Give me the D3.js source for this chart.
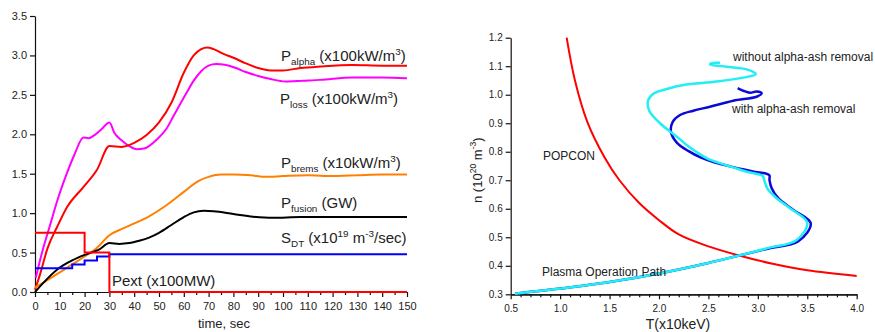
<!DOCTYPE html>
<html>
<head>
<meta charset="utf-8">
<script src="https://cdn.jsdelivr.net/npm/d3@7"></script>
<style>
  body { margin: 0; background: #fff; }
  text { font-family: "Liberation Sans", Arial, sans-serif; fill: #222; }
</style>
</head>
<body>
<svg id="chart" width="875" height="332"></svg>
<script>
// ---- left panel: time traces [time (sec), value] ----
const pAlpha = [[0,0.03],[2,0.22],[5,0.55],[9,0.83],[13,1.08],[19.5,1.33],[25,1.55],[30,1.85],[35,1.84],[40,1.89],[45,1.99],[50,2.15],[55,2.4],[60,2.78],[64,3.0],[67,3.08],[69.5,3.1],[72,3.08],[76,3.02],[80,2.97],[85,2.9],[90,2.84],[95,2.81],[100,2.81],[107,2.84],[115,2.86],[128,2.88],[140,2.87],[150,2.87]];
const pLoss = [[0.3,0.18],[3,0.52],[6,0.84],[9,1.16],[12.8,1.5],[16,1.75],[19.5,1.96],[21.5,1.95],[24,1.99],[27,2.07],[30,2.15],[32,2.02],[35,1.92],[38,1.85],[41,1.81],[44,1.82],[49,1.93],[53,2.07],[56,2.24],[61,2.52],[64,2.68],[67,2.8],[70,2.87],[73,2.89],[77,2.88],[81,2.84],[85,2.79],[90,2.74],[95,2.7],[101,2.67],[108,2.68],[115,2.69],[128,2.72],[140,2.72],[150,2.71]];
const pBrems = [[0,0.055],[5,0.15],[10,0.25],[15,0.35],[20,0.45],[25,0.56],[30,0.72],[35,0.8],[40,0.87],[46,0.96],[53,1.1],[60,1.27],[66,1.41],[70,1.46],[75,1.49],[80,1.49],[87,1.48],[93,1.46],[100,1.47],[110,1.48],[120,1.47],[130,1.48],[140,1.49],[150,1.49]];
const pFusion = [[0,0],[5,0.17],[10,0.31],[15,0.4],[20,0.47],[26,0.54],[30,0.62],[34,0.61],[38,0.62],[42,0.65],[46,0.69],[50,0.75],[55,0.85],[60,0.95],[64,1.01],[68,1.03],[72,1.025],[80,0.99],[88,0.955],[96,0.94],[107,0.95],[120,0.95],[150,0.95]];
const sDT = [[0,0.3],[15,0.35],[20,0.4],[25,0.45],[30,0.48],[150,0.48]];
const pExt = [[0,0.75],[20,0.5],[30,0],[150,0]];

const leftXTicks = d3.range(0, 151, 10);
const leftXMinor = d3.range(5, 150, 10);
const leftYTicks = d3.range(0, 3.51, 0.5);

// ---- right panel: [T (x10keV), n (1e20 m^-3)] ----
const popcon = [[1.066,1.2],[1.15,1.05],[1.275,0.905],[1.45,0.78],[1.6,0.7],[1.8,0.62],[2.0,0.56],[2.2,0.51],[2.5,0.468],[2.8,0.437],[3.15,0.407],[3.5,0.384],[4.0,0.364]];
const pathWithout = [[0.543,0.302],[1.0,0.32],[1.5,0.343],[2.0,0.373],[2.5,0.41],[2.8,0.435],[3.1,0.462],[3.39,0.49],[3.5,0.551],[3.325,0.602],[3.19,0.637],[3.095,0.672],[3.065,0.7],[3.05,0.715],[2.9,0.729],[2.75,0.745],[2.6,0.762],[2.5,0.774],[2.42,0.79],[2.3,0.818],[2.18,0.853],[2.01,0.9],[1.9,0.945],[1.89,0.98],[1.95,1.005],[2.078,1.02],[2.246,1.034],[2.584,1.046],[2.853,1.06],[2.98,1.072],[2.887,1.089],[2.685,1.098],[2.516,1.106],[2.533,1.111],[2.617,1.112]];
const pathWith = [[0.543,0.302],[1.0,0.32],[1.5,0.343],[2.0,0.373],[2.5,0.41],[2.8,0.435],[3.1,0.46],[3.41,0.486],[3.535,0.549],[3.36,0.596],[3.207,0.637],[3.14,0.672],[3.118,0.7],[3.115,0.718],[2.95,0.731],[2.75,0.746],[2.55,0.764],[2.42,0.78],[2.3,0.802],[2.18,0.832],[2.121,0.87],[2.139,0.905],[2.213,0.929],[2.347,0.944],[2.516,0.958],[2.752,0.979],[2.988,0.993],[3.039,1.005],[2.988,1.011],[2.921,1.007],[2.853,1.014],[2.82,1.019],[2.796,1.023]];

const rightXTicks = d3.range(0.5, 4.01, 0.5);
const rightXMinor = d3.range(0.6, 4.0, 0.1).filter(v => Math.abs(v * 2 - Math.round(v * 2)) > 0.01);
const rightYTicks = d3.range(0.3, 1.201, 0.1);

const svg = d3.select("#chart");

// draws text with sub/superscript pieces: parts = [[text, "sub" | "sup" | ""]]
function richText(g, x, y, size, parts) {
  const t = g.append("text").attr("x", x).attr("y", y).style("font-size", size + "px");
  let shift = 0;
  parts.forEach(([str, kind]) => {
    const target = kind === "sub" ? 4 : kind === "sup" ? -6 : 0;
    t.append("tspan")
      .attr("dy", target - shift)
      .style("font-size", kind ? (size * 0.66) + "px" : size + "px")
      .text(str);
    shift = target;
  });
  return t;
}

// ================= left panel =================
const x1 = d3.scaleLinear().domain([0, 150]).range([35, 407]);
const y1 = d3.scaleLinear().domain([0, 3.5]).range([292, 16]);
const left = svg.append("g");

left.append("g")
  .attr("transform", "translate(0,292)")
  .call(d3.axisBottom(x1).tickValues(leftXMinor).tickSize(3).tickSizeOuter(0).tickFormat(""));
left.append("g")
  .attr("transform", "translate(0,292)")
  .call(d3.axisBottom(x1).tickValues(leftXTicks).tickSize(5).tickSizeOuter(0).tickFormat(d3.format("d")))
  .call(g => g.selectAll("text").style("font-size", "11px").attr("dy", "0.95em"));
left.append("g")
  .attr("transform", "translate(35,0)")
  .call(d3.axisLeft(y1).tickValues(leftYTicks).tickSize(5).tickSizeOuter(0).tickFormat(d3.format(".1f")))
  .call(g => g.selectAll("text").style("font-size", "11px"));
left.selectAll(".domain, .tick line").attr("stroke", "#111").attr("stroke-width", 1.2);

const line1 = d3.line().x(d => x1(d[0])).y(d => y1(d[1])).curve(d3.curveMonotoneX);
const step1 = d3.line().x(d => x1(d[0])).y(d => y1(d[1])).curve(d3.curveStepAfter);

const leftSeries = [
  { data: pLoss, color: "#ff00ff", gen: line1 },
  { data: pAlpha, color: "#ff0000", gen: line1 },
  { data: pBrems, color: "#ff8000", gen: line1 },
  { data: pFusion, color: "#000000", gen: line1 },
  { data: sDT, color: "#0000ff", gen: step1 },
  { data: pExt, color: "#ff0000", gen: step1 }
];
leftSeries.forEach(s => {
  left.append("path")
    .attr("d", s.gen(s.data))
    .attr("fill", "none")
    .attr("stroke", s.color)
    .attr("stroke-width", 2);
});

richText(left, 281, 61, 15, [["P", ""], ["alpha", "sub"], [" (x100kW/m", ""], ["3", "sup"], [")", ""]]);
richText(left, 280, 104, 15, [["P", ""], ["loss", "sub"], [" (x100kW/m", ""], ["3", "sup"], [")", ""]]);
richText(left, 281, 168, 15, [["P", ""], ["brems", "sub"], [" (x10kW/m", ""], ["3", "sup"], [")", ""]]);
richText(left, 281, 208, 15, [["P", ""], ["fusion", "sub"], [" (GW)", ""]]);
richText(left, 281, 243, 15, [["S", ""], ["DT", "sub"], [" (x10", ""], ["19", "sup"], [" m", ""], ["-3", "sup"], ["/sec)", ""]]);
left.append("text").attr("x", 112).attr("y", 286).style("font-size", "15px").text("Pext (x100MW)");
left.append("text").attr("x", 224).attr("y", 328).attr("text-anchor", "middle").style("font-size", "13px").text("time, sec");

// ================= right panel =================
const x2 = d3.scaleLinear().domain([0.5, 4]).range([510.7, 856.7]);
const y2 = d3.scaleLinear().domain([0.3, 1.2]).range([294.3, 37.7]);
const right = svg.append("g");

right.append("g")
  .attr("transform", "translate(0,294.3)")
  .call(d3.axisBottom(x2).tickValues(rightXMinor).tickSize(3).tickSizeOuter(0).tickFormat(""));
right.append("g")
  .attr("transform", "translate(0,294.3)")
  .call(d3.axisBottom(x2).tickValues(rightXTicks).tickSize(5).tickSizeOuter(0).tickFormat(d3.format(".1f")))
  .call(g => g.selectAll("text").style("font-size", "10px").attr("dy", "0.95em"));
right.append("g")
  .attr("transform", "translate(510.7,0)")
  .call(d3.axisLeft(y2).tickValues(rightYTicks).tickSize(5).tickSizeOuter(0).tickFormat(d3.format(".1f")))
  .call(g => g.selectAll("text").style("font-size", "10px"));
right.selectAll(".domain, .tick line").attr("stroke", "#111").attr("stroke-width", 1.2);

const line2 = d3.line().x(d => x2(d[0])).y(d => y2(d[1])).curve(d3.curveCatmullRom.alpha(0.5));

right.append("path").attr("d", line2(popcon))
  .attr("fill", "none").attr("stroke", "#ff0000").attr("stroke-width", 2);
right.append("path").attr("d", line2(pathWith))
  .attr("fill", "none").attr("stroke", "#0a0ad8").attr("stroke-width", 2.5);
right.append("path").attr("d", line2(pathWithout))
  .attr("fill", "none").attr("stroke", "#22eef5").attr("stroke-width", 2.5);

right.append("text").attr("x", 733).attr("y", 61).style("font-size", "12px").text("without alpha-ash removal");
right.append("text").attr("x", 732).attr("y", 113).style("font-size", "12px").text("with alpha-ash removal");
right.append("text").attr("x", 543).attr("y", 160).style("font-size", "12px").text("POPCON");
right.append("text").attr("x", 542).attr("y", 276).style("font-size", "12px").text("Plasma Operation Path");

const yLab = right.append("g").attr("transform", "translate(482,172) rotate(-90)");
richText(yLab, -31, 0, 13, [["n (10", ""], ["20", "sup"], [" m", ""], ["-3", "sup"], [")", ""]]);
right.append("text").attr("x", 678).attr("y", 329).attr("text-anchor", "middle").style("font-size", "14px").text("T(x10keV)");
</script>
</body>
</html>
